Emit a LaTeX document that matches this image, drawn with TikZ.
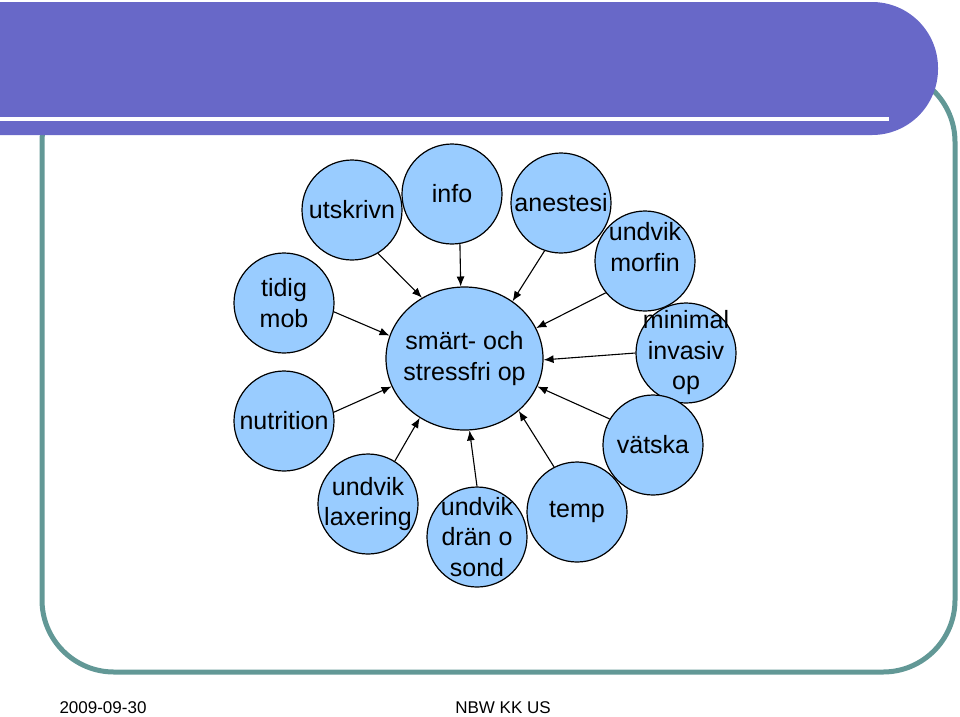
\documentclass[tikz,border=0pt]{standalone}
\usepackage{fontspec}
\setmainfont{Liberation Sans}
\usetikzlibrary{arrows.meta,shapes.geometric}
\definecolor{barblue}{RGB}{104,104,200}
\definecolor{frameteal}{RGB}{98,152,150}
\definecolor{bubblue}{RGB}{153,204,255}
\tikzset{
  bub/.style={circle, draw=black, line width=1.2pt, fill=bubblue, minimum size=100pt, inner sep=0pt},
  txt/.style={font=\fontsize{25}{30.5}\selectfont, align=center, inner sep=0pt},
  feed/.style={-{Latex[length=10pt,width=8pt]}, line width=1.1pt},
}
\begin{document}
\begin{tikzpicture}[x=1pt, y=-1pt]
  \useasboundingbox (0,0) rectangle (960,716);
  % frame and title bar
  \draw[frameteal, line width=5pt, rounded corners=72pt] (42,70) rectangle (955,672);
  \fill[barblue, rounded corners=66pt] (-200,2) rectangle (938,135);
  \fill[white] (0,117) rectangle (889,121);
  % footer
  \node[font=\fontsize{17}{20}\selectfont] (date) at (103,708) {2009-09-30};
  \node[font=\fontsize{17}{20}\selectfont] (org) at (503,708) {NBW KK US};
  % bubbles
  \node[bub, label={[txt]center:utskrivn}] (utskrivn) at (352,210) {};
  \node[bub, label={[txt]center:info}] (info) at (452,194) {};
  \node[bub, label={[txt]center:anestesi}] (anestesi) at (561,203) {};
  \node[bub, label={[txt, yshift=14pt]center:{undvik\\morfin}}] (morfin) at (645,261) {};
  \node[bub, label={[txt]center:{minimal\\invasiv\\op}}] (minimal) at (686,353) {};
  \node[bub, label={[txt]center:vätska}] (vatska) at (653,445) {};
  \node[bub, label={[txt]center:temp}] (temp) at (577,512) {};
  \node[bub, label={[txt]center:{undvik\\drän o\\sond}}] (dran) at (477,537) {};
  \node[bub, label={[txt]center:{undvik\\laxering}}] (laxering) at (368,504) {};
  \node[bub, label={[txt]center:nutrition}] (nutrition) at (284,421) {};
  \node[bub, label={[txt]center:{tidig\\mob}}] (tidig) at (284,303) {};
  % centre
  \node[ellipse, draw=black, line width=1.2pt, fill=bubblue, minimum width=157pt, minimum height=143pt, inner sep=0pt,
    label={[txt]center:{smärt- och\\stressfri op}}] (op) at (464.5,358.5) {};
  % arrows into the centre
  \draw[feed] (utskrivn.-59) -- (op.125.8);
  \draw[feed] (info.-81) -- (op.93.6);
  \draw[feed] (anestesi.-109) -- (op.50);
  \draw[feed] (morfin.219) -- (op.23.2);
  \draw[feed] (minimal.180) -- (op.-1.8);
  \draw[feed] (vatska.149) -- (op.-21.2);
  \draw[feed] (temp.117) -- (op.-44.7);
  \draw[feed] (dran.90) -- (op.-86.3);
  \draw[feed] (laxering.58) -- (op.233.8);
  \draw[feed] (nutrition.10) -- (op.201.7);
  \draw[feed] (tidig.-10) -- (op.163.3);
\end{tikzpicture}
\end{document}
